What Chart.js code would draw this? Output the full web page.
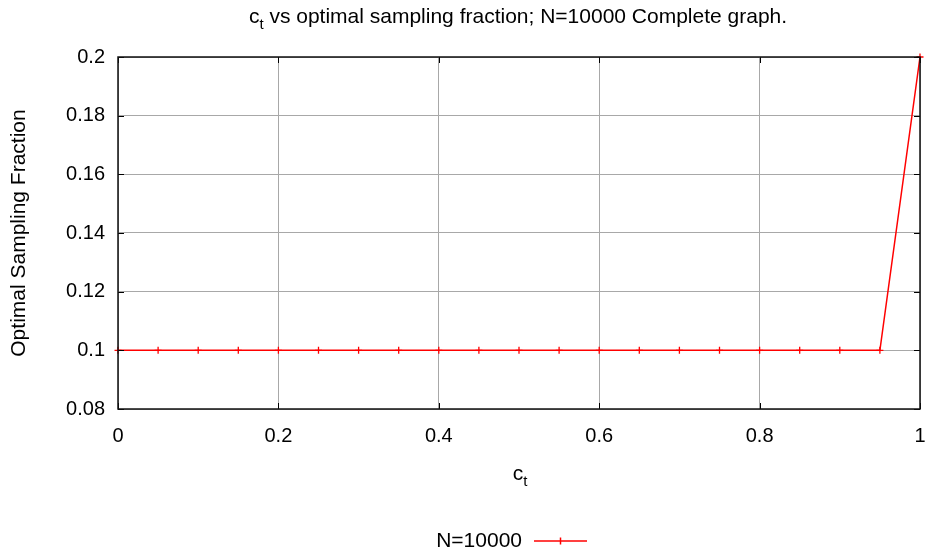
<!DOCTYPE html>
<html>
<head>
<meta charset="utf-8">
<script src="https://cdn.jsdelivr.net/npm/chart.js@4/dist/chart.umd.min.js"></script>
<style>
  html, body { margin: 0; padding: 0; background: #fff; }
  #wrap { position: relative; width: 930px; height: 557px; font-family: "Liberation Sans", Arial, sans-serif; color: #000; }
  canvas { position: absolute; left: 0; top: 0; }
  .lbl { position: absolute; white-space: nowrap; font-size: 21px; line-height: 24px; }
  sub { font-size: 15px; vertical-align: -6px; line-height: 0; }
</style>
</head>
<body>
<div id="wrap">
  <canvas id="c" width="930" height="557"></canvas>
  <div class="lbl" id="title" style="left:0; width:1036px; top:4px; text-align:center;">c<sub>t</sub> vs optimal sampling fraction; N=10000 Complete graph.</div>
  <div class="lbl" id="xtitle" style="left:0; width:1040px; top:461px; text-align:center;">c<sub>t</sub></div>
  <div class="lbl" id="legend" style="left:300px; width:222px; top:528px; text-align:right;">N=10000</div>
  <svg style="position:absolute; left:532px; top:535px;" width="58" height="12"><line x1="2" y1="6" x2="55" y2="6" stroke="#ff0000" stroke-width="1.5"/><line x1="28.5" y1="2.5" x2="28.5" y2="9.5" stroke="#ff0000" stroke-width="1.5"/></svg>
</div>
<script>
const ctValues = [0, 0.05, 0.1, 0.15, 0.2, 0.25, 0.3, 0.35, 0.4, 0.45, 0.5, 0.55, 0.6, 0.65, 0.7, 0.75, 0.8, 0.85, 0.9, 0.95, 1.0];
const samplingFraction = [0.1, 0.1, 0.1, 0.1, 0.1, 0.1, 0.1, 0.1, 0.1, 0.1, 0.1, 0.1, 0.1, 0.1, 0.1, 0.1, 0.1, 0.1, 0.1, 0.1, 0.2];
const seriesLabel = "N=10000";
const yAxisTitle = "Optimal Sampling Fraction";

const points = ctValues.map((x, i) => ({ x: x, y: samplingFraction[i] }));
const fmt = v => String(+Number(v).toFixed(2));

const borderPlugin = {
  id: 'frame',
  afterDatasetsDraw(chart) {
    const a = chart.chartArea, ctx = chart.ctx;
    ctx.save();
    const xs = chart.scales.x, ys = chart.scales.y;
    ctx.strokeStyle = '#000';
    ctx.lineWidth = 1;
    ctx.beginPath();
    xs.ticks.forEach(t => {
      const px = Math.round(xs.getPixelForValue(t.value)) + 0.5;
      ctx.moveTo(px, a.bottom); ctx.lineTo(px, a.bottom - 6);
      ctx.moveTo(px, a.top); ctx.lineTo(px, a.top + 6);
    });
    ys.ticks.forEach(t => {
      const py = Math.round(ys.getPixelForValue(t.value)) + 0.5;
      ctx.moveTo(a.left, py); ctx.lineTo(a.left + 6, py);
      ctx.moveTo(a.right, py); ctx.lineTo(a.right - 6, py);
    });
    ctx.stroke();
    ctx.lineWidth = 1.5;
    ctx.strokeStyle = '#111';
    ctx.strokeRect(Math.round(a.left), Math.round(a.top), Math.round(a.right - a.left), Math.round(a.bottom - a.top));
    ctx.restore();
  }
};

Chart.defaults.font.family = '"Liberation Sans", Arial, sans-serif';
Chart.defaults.color = '#000';

new Chart(document.getElementById('c'), {
  type: 'line',
  data: {
    datasets: [{
      label: seriesLabel,
      data: points,
      borderColor: '#ff0000',
      backgroundColor: '#ff0000',
      borderWidth: 1.5,
      pointStyle: 'cross',
      pointRadius: 3.5,
      pointBorderWidth: 1.3,
      pointHoverRadius: 3.5,
      tension: 0,
      fill: false,
      clip: false
    }]
  },
  options: {
    responsive: false,
    animation: false,
    layout: { padding: { left: 0, right: 10, top: 57, bottom: 0 } },
    plugins: { legend: { display: false }, title: { display: false }, tooltip: { enabled: false } },
    scales: {
      x: {
        type: 'linear',
        min: 0, max: 1,
        ticks: { stepSize: 0.2, font: { size: 20 }, padding: 15, maxRotation: 0, callback: fmt },
        grid: { color: '#a8a8a8', lineWidth: 1, drawTicks: false },
        border: { display: false },
        afterFit(scale) { scale.height = 148; scale.paddingLeft = 0; scale.paddingRight = 0; }
      },
      y: {
        type: 'linear',
        min: 0.08, max: 0.2,
        ticks: { stepSize: 0.02, font: { size: 20 }, padding: 13, callback: fmt },
        grid: { color: '#a8a8a8', lineWidth: 1, drawTicks: false },
        border: { display: false },
        title: { display: true, text: yAxisTitle, font: { size: 21 }, padding: { top: 7, bottom: 0 } },
        afterFit(scale) { scale.width = 118; scale.paddingTop = 0; scale.paddingBottom = 0; }
      }
    }
  },
  plugins: [borderPlugin]
});
</script>
</body>
</html>
